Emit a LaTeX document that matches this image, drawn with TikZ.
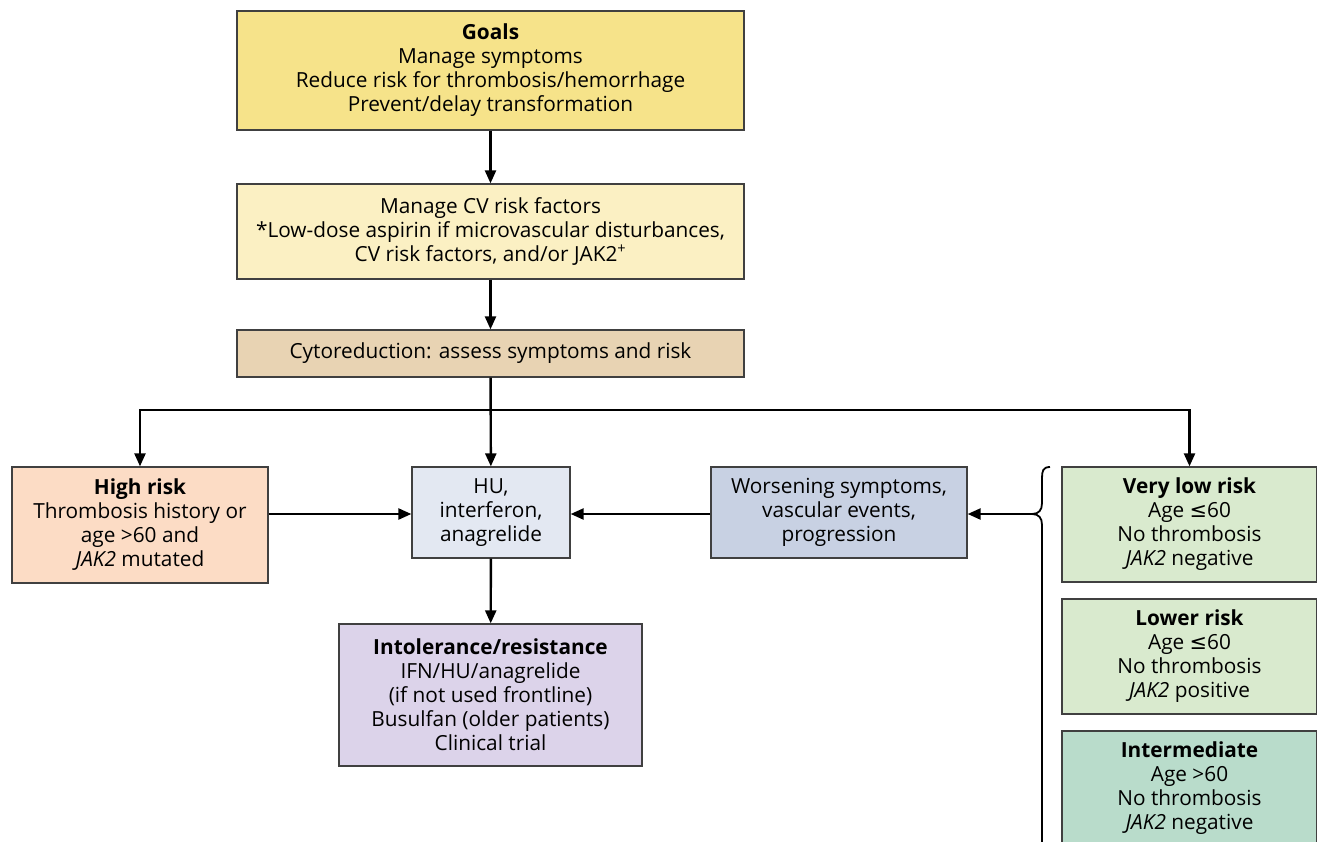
\documentclass[tikz,border=0pt]{standalone}
\usepackage{fontspec}
\setmainfont{Open Sans}
\newfontfamily\symfont{DejaVu Sans}
\usepackage{tikz}
\usetikzlibrary{arrows.meta, positioning}
\usepackage{xcolor}

\definecolor{goalsfill}{HTML}{F6E38A}
\definecolor{cvfill}{HTML}{FBF0C3}
\definecolor{cytofill}{HTML}{E8D3B3}
\definecolor{highfill}{HTML}{FCDCC5}
\definecolor{hufill}{HTML}{E3E8F2}
\definecolor{worsefill}{HTML}{C8D1E3}
\definecolor{intolfill}{HTML}{DCD3EA}
\definecolor{greenfill}{HTML}{D9EACE}
\definecolor{tealfill}{HTML}{B9DCCB}
\definecolor{boxline}{HTML}{404040}

\newcommand{\leqsym}{{\symfont ≤}}

\begin{document}
\begin{tikzpicture}[x=1pt,y=-1pt,line width=2.4pt,
    >={Triangle[length=13pt,width=11pt]}]
  \tikzstyle{every node}=[font=\fontsize{20.8}{24}\selectfont]
  \tikzstyle{stepbox}=[draw=boxline,line width=1.3pt,align=center,
    inner sep=0pt,minimum width=#1]

  \useasboundingbox (0,0) rectangle (1317,841);
  \clip (0,0) rectangle (1317,841);

  \node[stepbox=507,minimum height=119,fill=goalsfill] (goals) at (490.5,70.5)
    {\textbf{Goals}\\Manage symptoms\\Reduce risk for thrombosis/hemorrhage\\Prevent/delay transformation};
  \node[stepbox=507,minimum height=95,fill=cvfill]     (cvrisk) at (490.5,231.5)
    {Manage CV risk factors\\*Low-dose aspirin if microvascular disturbances,\\CV risk factors, and/or JAK2\textsuperscript{+}};
  \node[stepbox=507,minimum height=47,fill=cytofill]   (cyto) at (490.5,353.5)
    {Cytoreduction: assess symptoms and risk};

  \node[stepbox=256,minimum height=116,fill=highfill]  (high) at (140,525)
    {\textbf{High risk}\\Thrombosis history or\\age >60 and\\\textit{JAK2} mutated};
  \node[stepbox=158,minimum height=91,fill=hufill]     (hu) at (491,512.5)
    {HU,\\interferon,\\anagrelide};
  \node[stepbox=256,minimum height=91,fill=worsefill]  (worse) at (839,512.5)
    {Worsening symptoms,\\vascular events,\\progression};
  \node[stepbox=303,minimum height=142,fill=intolfill] (intol) at (490.5,695)
    {\textbf{Intolerance/resistance}\\IFN/HU/anagrelide\\(if not used frontline)\\Busulfan (older patients)\\Clinical trial};

  \node[stepbox=255,minimum height=115,fill=greenfill] (vlow) at (1189.5,524.5)
    {\textbf{Very low risk}\\Age \leqsym60\\No thrombosis\\\textit{JAK2} negative};
  \node[stepbox=255,minimum height=115,fill=greenfill] (lower) at (1189.5,656.5)
    {\textbf{Lower risk}\\Age \leqsym60\\No thrombosis\\\textit{JAK2} positive};
  \node[stepbox=255,minimum height=115,fill=tealfill]  (inter) at (1189.5,788.5)
    {\textbf{Intermediate}\\Age >60\\No thrombosis\\\textit{JAK2} negative};

  % brace round the risk groups
  \coordinate (split) at (490,410);
  \coordinate (tip)   at (1032,514);
  \draw[line width=1.8pt] (1050,467) .. controls (1043,467) and (1042,471) .. (1042,478)
    -- (1042,503) .. controls (1042,510) and (1039,514) .. (tip)
    .. controls (1039,514) and (1042,518) .. (1042,525) -- (1042,845);

  \path[->]
  (goals)  edge (cvrisk)
  (cvrisk) edge (cyto)
  (cyto)   edge (hu)
  (high.east |- tip) edge (hu.west |- tip)
  (worse.west |- tip) edge (hu.east |- tip)
  (hu)     edge (intol)
  (tip)    edge (worse.east |- tip)
  ;
  \draw[->] (split) -| (high.north);
  \draw[->] (split) -| (vlow.north);
\end{tikzpicture}
\end{document}
